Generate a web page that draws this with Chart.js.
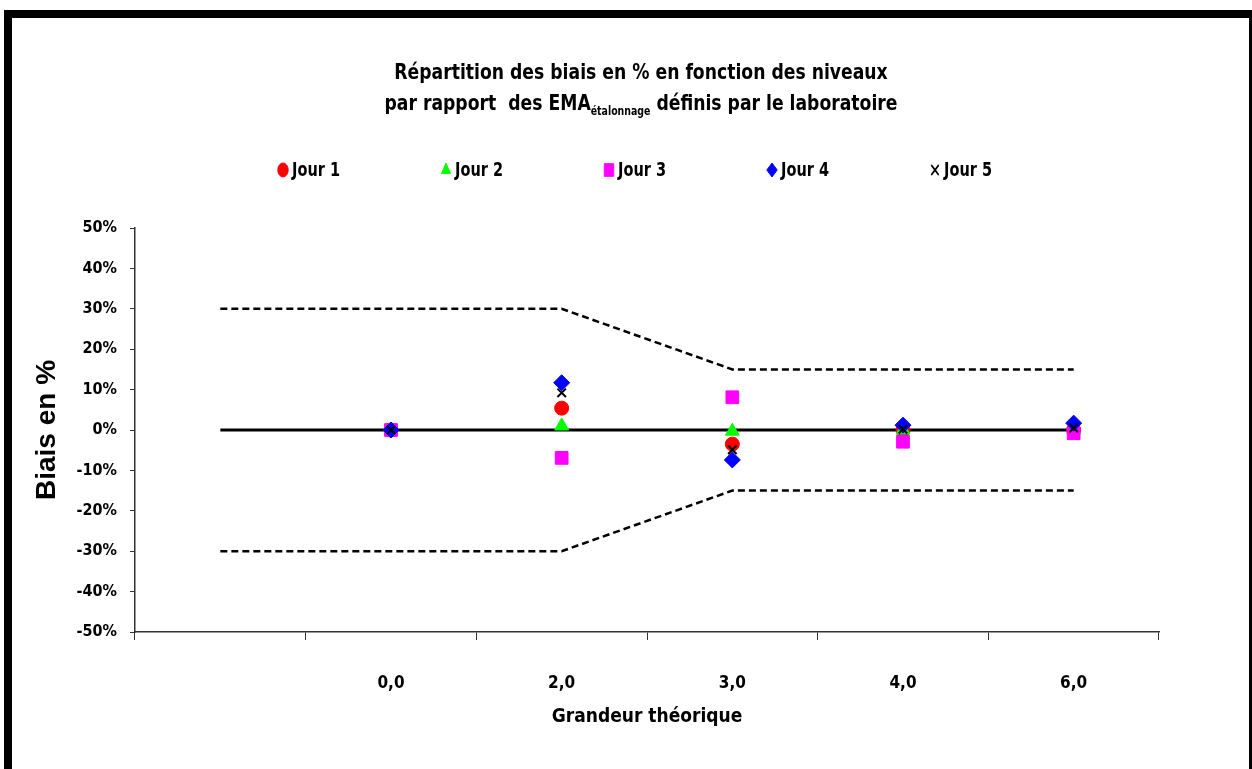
<!DOCTYPE html>
<html>
<head>
<meta charset="utf-8">
<script src="https://cdn.jsdelivr.net/npm/chart.js@4.4.1/dist/chart.umd.min.js"></script>
<style>
  html, body { margin: 0; padding: 0; background: #fff; }
  #wrap { position: relative; width: 1252px; height: 769px; overflow: hidden; }
  #chartBox { position: absolute; left: 0; top: 0; width: 1252px; height: 769px; }
  #frame {
    position: absolute; left: 4px; top: 10px; width: 1248px; height: 759px;
    box-sizing: border-box; border-left: 8px solid #000; border-top: 8px solid #000;
    border-right: 3px solid #000; pointer-events: none;
  }
  #title {
    position: absolute; left: 141px; top: 56px; width: 1000px; text-align: center;
    font-family: "Liberation Sans Narrow", "DejaVu Sans Condensed", sans-serif;
    font-weight: bold; font-size: 22px; line-height: 31px; color: #000;
    transform: scaleX(0.87); transform-origin: 500px 0;
  }
  #title sub { font-size: 12px; vertical-align: -5px; line-height: 0; }
</style>
</head>
<body>
<div id="wrap">
  <div id="chartBox"><canvas id="biaisChart"></canvas></div>
  <div id="title">Répartition des biais en % en fonction des niveaux<br>par rapport&nbsp; des EMA<sub>étalonnage</sub> définis par le laboratoire</div>
  <div id="frame"></div>
</div>
<script>
const NARROW = '"Liberation Sans Narrow", "DejaVu Sans Condensed", sans-serif';

// categories (first one is empty, as in the original sheet)
const categories = ['', '0,0', '2,0', '3,0', '4,0', '6,0'];

// biais en % per day
const jour1 = [null, 0, 5.4, -3.5, 0, 0];
const jour2 = [null, 0, 1.0, -0.3, 0, 0];
const jour3 = [null, 0, -6.9, 8.1, -2.9, -0.8];
const jour4 = [null, 0, 11.7, -7.4, 1.2, 1.7];
const jour5 = [null, 0, 9.2, -4.9, 0.2, 0.5];

// EMA limits and reference line
const emaHaut = [30, 30, 30, 15, 15, 15];
const emaBas = [-30, -30, -30, -15, -15, -15];
const zero = [0, 0, 0, 0, 0, 0];

const seriesNames = ['Jour 1', 'Jour 2', 'Jour 3', 'Jour 4', 'Jour 5'];

const markerRadius = { circle: 7, triangle: 8, rect: 9, rectRot: 8, crossRot: 6 };

function pointSet(label, data, style, color, order) {
    const isCross = style === 'crossRot';
    return {
        label: label,
        data: data,
        showLine: false,
        pointStyle: style,
        pointRadius: markerRadius[style],
        pointBackgroundColor: color,
        pointBorderColor: isCross ? '#000' : color,
        pointBorderWidth: isCross ? 2 : 1,
        order: order
    };
}

function limitSet(data, dashed) {
    return {
        data: data,
        borderColor: '#000',
        borderWidth: dashed ? 2.5 : 3,
        borderDash: dashed ? [7, 4] : [],
        pointRadius: 0,
        tension: 0,
        fill: false,
        order: 10
    };
}

// legend drawn at fixed spots, like the Excel one
const legendPlugin = {
    id: 'fixedLegend',
    afterDraw(chart) {
        const ctx = chart.ctx;
        ctx.save();
        ctx.textBaseline = 'middle';
        seriesNames.forEach((name, i) => {
            const ds = chart.data.datasets[i];
            const x = 283 + i * 163;
            const y = 170;
            ctx.save();
            ctx.translate(x, y);
            ctx.scale(0.75, 1);
            ctx.fillStyle = ds.pointBackgroundColor;
            ctx.strokeStyle = ds.pointBorderColor;
            ctx.lineWidth = ds.pointBorderWidth;
            Chart.helpers.drawPoint(ctx, {
                pointStyle: ds.pointStyle,
                radius: ds.pointStyle === 'rect' ? 9 : 7,
                borderWidth: ds.pointBorderWidth,
                rotation: 0
            }, 0, 0);
            ctx.restore();
            ctx.save();
            ctx.translate(x + 9, y + 1);
            ctx.scale(0.85, 1);
            ctx.font = 'bold 19px ' + NARROW;
            ctx.fillStyle = '#000';
            ctx.fillText(name, 0, 0);
            ctx.restore();
        });
        ctx.restore();
    }
};

const ctx = document.getElementById('biaisChart').getContext('2d');

new Chart(ctx, {
    type: 'line',
    data: {
        labels: categories,
        datasets: [
            pointSet(seriesNames[0], jour1, 'circle', '#ff0000', 5),
            pointSet(seriesNames[1], jour2, 'triangle', '#00ff00', 4),
            pointSet(seriesNames[2], jour3, 'rect', '#ff00ff', 3),
            pointSet(seriesNames[3], jour4, 'rectRot', '#0000ff', 2),
            pointSet(seriesNames[4], jour5, 'crossRot', '#000000', 1),
            limitSet(emaHaut, true),
            limitSet(emaBas, true),
            limitSet(zero, false)
        ]
    },
    options: {
        responsive: true,
        maintainAspectRatio: false,
        animation: false,
        layout: {
            padding: { left: 0, top: 228, right: 93, bottom: 0 }
        },
        plugins: {
            legend: { display: false },
            title: { display: false },
            tooltip: { enabled: false }
        },
        scales: {
            x: {
                type: 'category',
                offset: true,
                grid: {
                    offset: true,
                    drawOnChartArea: false,
                    drawTicks: true,
                    tickLength: 8,
                    color: '#333'
                },
                border: { color: '#333', width: 1.5 },
                ticks: {
                    color: '#000',
                    padding: 33,
                    maxRotation: 0,
                    autoSkip: false,
                    font: { family: NARROW, weight: 'bold', size: 17 }
                },
                title: {
                    display: true,
                    text: 'Grandeur théorique',
                    color: '#000',
                    font: { family: NARROW, weight: 'bold', size: 19 },
                    padding: { top: 0, bottom: 41 }
                },
                afterFit(scale) {
                    scale.height = 769 - 632;
                }
            },
            y: {
                min: -50,
                max: 50,
                grid: {
                    drawOnChartArea: false,
                    drawTicks: true,
                    tickLength: 5,
                    color: '#333'
                },
                border: { color: '#333', width: 1.5 },
                ticks: {
                    stepSize: 10,
                    color: '#000',
                    padding: 13,
                    font: { family: NARROW, weight: 'bold', size: 16 },
                    callback: value => value + '%'
                },
                title: {
                    display: true,
                    text: 'Biais en %',
                    color: '#000',
                    font: { family: '"Liberation Sans", Arial, sans-serif', weight: 'bold', size: 28 },
                    padding: { top: 30, bottom: 0 }
                },
                afterFit(scale) {
                    scale.width = 135;
                }
            }
        }
    },
    plugins: [legendPlugin]
});
</script>
</body>
</html>
